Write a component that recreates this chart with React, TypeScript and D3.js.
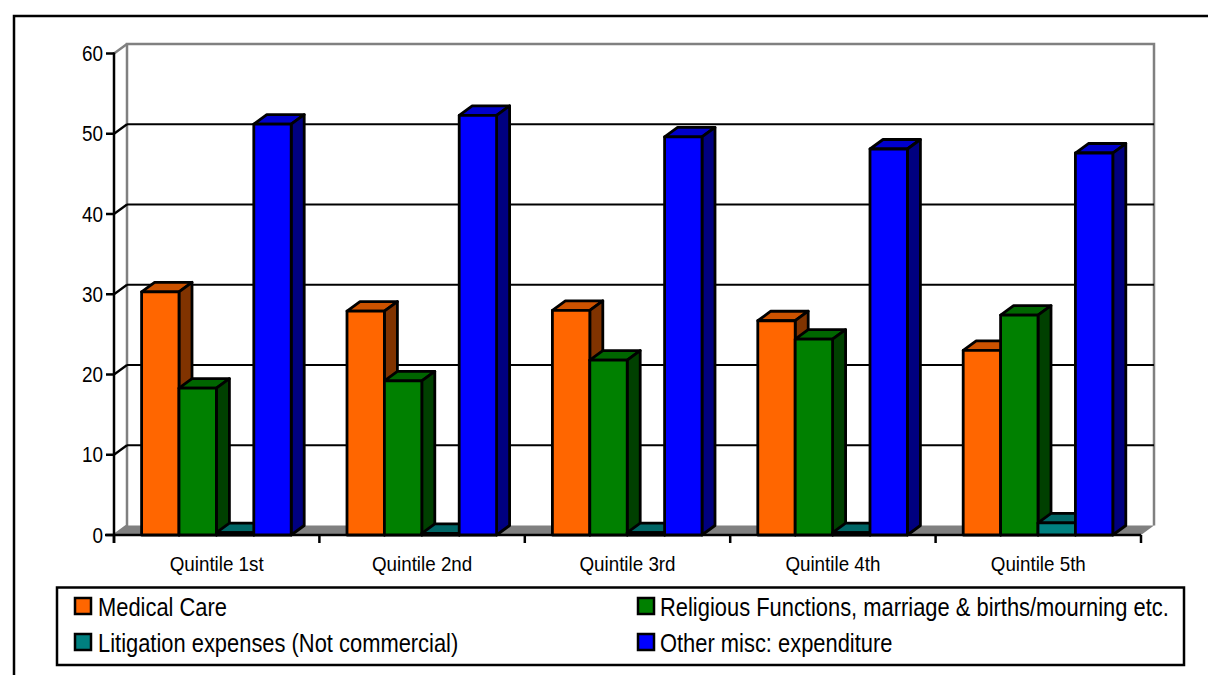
import React from "react";
import * as d3 from "d3";

const categories = ["Quintile 1st", "Quintile 2nd", "Quintile 3rd", "Quintile 4th", "Quintile 5th"];
const seriesNames = ["Medical Care", "Religious Functions, marriage & births/mourning etc.", "Litigation expenses (Not commercial)", "Other misc: expenditure"];
const medicalCare = [30.3, 27.9, 28, 26.7, 23];
const religious = [18.3, 19.2, 21.8, 24.4, 27.4];
const litigation = [0.3, 0.2, 0.3, 0.3, 1.5];
const otherMisc = [51.2, 52.3, 49.6, 48.1, 47.6];
const yTicks = [0, 10, 20, 30, 40, 50, 60];
const seriesValues = [medicalCare, religious, litigation, otherMisc];
const fronts = ["#FF6600", "#008000", "#008080", "#0000FF"];
const tops = ["#CC5200", "#006600", "#006666", "#0000CC"];
const sides = ["#803300", "#004000", "#004040", "#000080"];

const DX = 13;
const DY = -9.5;
const FONT = "'Liberation Sans', Arial, sans-serif";

function SqueezedText({ x, y, size, sx, anchor, children }: any) {
  return (
    <text transform={`translate(${x},${y}) scale(${sx},1)`} textAnchor={anchor || "start"} fontFamily={FONT} fontSize={size} fill="#000">
      {children}
    </text>
  );
}

export default function App() {
  const y = d3.scaleLinear().domain([0, 60]).range([535, 53.5]);
  const x0 = d3.scaleBand().domain(categories).range([114, 1141]).paddingInner(0).paddingOuter(0);
  const barW = 37.4;
  const groupPad = (x0.bandwidth() - barW * 4) / 2 - 0.3;
  const y0 = y(0);
  return (
    <svg width={1208} height={675} style={{ position: "absolute", left: 0, top: 0, background: "#fff" }}>
      <path d="M14 675V16H1208" fill="none" stroke="#000" strokeWidth={2.5} />
      {/* back wall */}
      <path d={`M114 ${y0}L${114 + DX} ${y0 + DY}V${y(60) + DY}H${1141 + DX}V${y0 + DY}`} fill="none" stroke="#808080" strokeWidth={2.5} />
      <path d={`M114 ${y(60)}L${114 + DX} ${y(60) + DY}`} fill="none" stroke="#808080" strokeWidth={2.5} />
      {/* floor */}
      <path d={`M114 ${y0}L${114 + DX} ${y0 + DY}H${1141 + DX}L1141 ${y0}Z`} fill="#808080" stroke="none" />
      {/* gridlines */}
      {yTicks.slice(1, 6).map((t) => (
        <g key={t}>
          <line x1={114 + DX} x2={1141 + DX} y1={y(t) + DY} y2={y(t) + DY} stroke="#000" strokeWidth={2.2} />
          <line x1={114} x2={114 + DX} y1={y(t)} y2={y(t) + DY} stroke="#000" strokeWidth={2.2} />
        </g>
      ))}
      {/* axes */}
      <line x1={114} x2={114} y1={y(60) - 1} y2={y0 + 8} stroke="#000" strokeWidth={2.5} />
      <line x1={105} x2={1141} y1={y0} y2={y0} stroke="#000" strokeWidth={2.5} />
      {yTicks.map((t) => (
        <g key={t}>
          <line x1={106} x2={114} y1={y(t)} y2={y(t)} stroke="#000" strokeWidth={2.5} />
          <SqueezedText x={103} y={y(t) + 7.5} size={22} sx={0.86} anchor="end">{t}</SqueezedText>
        </g>
      ))}
      {d3.range(categories.length + 1).map((i) => {
        const px = 114 + i * x0.bandwidth();
        return <line key={i} x1={px} x2={px} y1={y0} y2={y0 + 8} stroke="#000" strokeWidth={2.5} />;
      })}
      {/* bars */}
      {categories.map((c, ci) =>
        seriesValues.map((vals, si) => {
          const bx = (x0(c) as number) + groupPad + si * barW;
          const by = y(vals[ci]);
          const r = bx + barW;
          return (
            <g key={c + si} stroke="#000" strokeWidth={2.8} strokeLinejoin="round">
              <path d={`M${bx} ${by}L${bx + DX} ${by + DY}H${r + DX}L${r} ${by}Z`} fill={tops[si]} />
              <path d={`M${r} ${by}L${r + DX} ${by + DY}V${y0 + DY}L${r} ${y0}Z`} fill={sides[si]} />
              <rect x={bx} y={by} width={barW} height={y0 - by} fill={fronts[si]} />
            </g>
          );
        })
      )}
      {categories.map((c) => (
        <SqueezedText key={c} x={(x0(c) as number) + x0.bandwidth() / 2} y={571} size={20} sx={0.94} anchor="middle">{c}</SqueezedText>
      ))}
      {/* legend */}
      <rect x={57} y={587.5} width={1127} height={77.5} fill="#fff" stroke="#000" strokeWidth={2.5} />
      {seriesNames.map((n, i) => {
        const lx = i % 2 === 0 ? 75 : 638;
        const ly = i < 2 ? 606 : 642;
        return (
          <g key={n}>
            <rect x={lx} y={ly - 8} width={16} height={16} fill={fronts[i]} stroke="#000" strokeWidth={2.5} />
            <SqueezedText x={lx + (i % 2 === 0 ? 23 : 22)} y={ly + 9.5} size={25} sx={0.876}>{n}</SqueezedText>
          </g>
        );
      })}
    </svg>
  );
}
